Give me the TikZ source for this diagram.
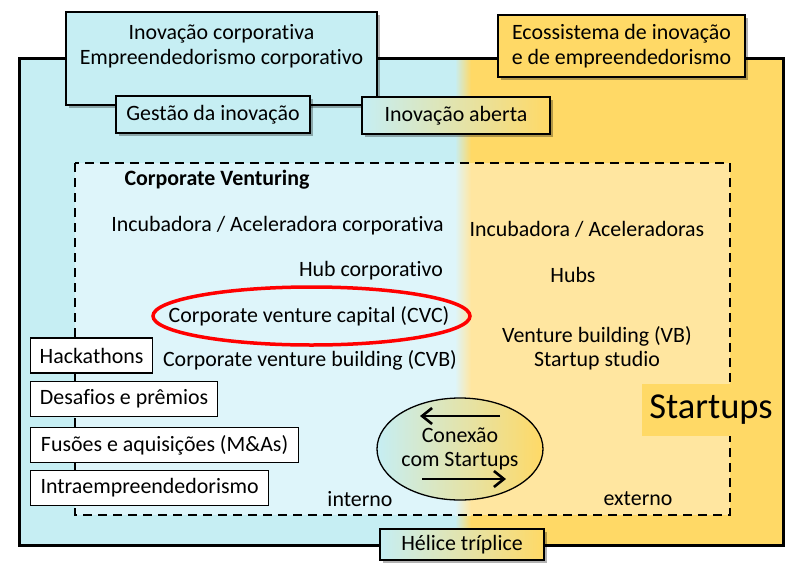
\documentclass[tikz,border=0pt]{standalone}
\usepackage{fontspec}
\setmainfont{Carlito}[Ligatures=NoCommon]
\usetikzlibrary{positioning,arrows.meta,shadows,shapes.geometric}
\definecolor{azul}{HTML}{C6EEF3}
\definecolor{azulclaro}{HTML}{DEF5FA}
\definecolor{amarelo}{HTML}{FFD966}
\definecolor{amareloclaro}{HTML}{FFE6A0}

\begin{document}
\begin{tikzpicture}[
  x=1pt, y=-1pt, font=\fontsize{21.9}{24.5}\selectfont, node distance=7pt,
  caixa/.style={draw, line width=1.3pt, inner sep=0pt, minimum width=#1, minimum height=37pt},
  caixa/.default=190pt,
  sombra/.style={drop shadow={shadow xshift=2.5pt, shadow yshift=-2.5pt, fill=black, opacity=0.3}},
  lista/.style={draw, line width=1.2pt, fill=white, anchor=west, minimum width=#1, inner xsep=8.5pt, inner ysep=0pt, minimum height=35pt},
  grad/.style={left color=azul, right color=amarelo},
  seta/.style={-{Straight Barb[length=10pt, width=16pt]}, line width=2.6pt},
  rot/.style={inner sep=1pt}]
\useasboundingbox (0,0) rectangle (796,568);
% --- outer frame: corporate side (blue) and ecosystem side (yellow)
\fill[azul] (19,58) rectangle (455,545);
\shade[grad] (455,58) rectangle (471,545);
\fill[amarelo] (471,58) rectangle (783,545);
\draw[line width=3pt] (19,58) rectangle (783,545);
% --- dashed area: corporate venturing
\fill[azulclaro] (75,163) rectangle (455,515);
\shade[left color=azulclaro, right color=amareloclaro] (455,163) rectangle (471,515);
\fill[amareloclaro] (471,163) rectangle (730,515);
\draw[line width=1.8pt, dash pattern=on 9pt off 6pt] (75,163) rectangle (730,515);
% --- boxes on the frame
\node[caixa=311pt, minimum height=93pt, fill=azul, sombra] (corp) at (221.5,58.5) {};
\node[below=13pt of corp.north, align=center, inner sep=0pt] (corptxt) {Inovação corporativa\\Empreendedorismo corporativo};
\node[caixa=194pt, fill=azul, sombra] (gestao) at (213,114.5) {Gestão da inovação};
\node[caixa=188pt, grad, sombra] (aberta) at (456,115.5) {Inovação aberta};
\node[caixa=247pt, minimum height=62pt, fill=amarelo, sombra, align=center] (ecos) at (621.5,46) {Ecossistema de inovação\\e de empreendedorismo};
\node[caixa=164pt, minimum height=31pt, grad, sombra] (helice) at (462,544.5) {Hélice tríplice};
% --- inside: corporate side
\node[rot, font=\fontsize{21.9}{24.5}\selectfont\bfseries] (cv) at (217,180) {Corporate Venturing};
\node[rot] (incub) at (277.5,226) {Incubadora / Aceleradora corporativa};
\node[rot] (hub) at (371,271) {Hub corporativo};
\node[rot] (cvc) at (309,316) {Corporate venture capital (CVC)};
\draw[red, line width=3.5pt] ([xshift=2.5pt]cvc.center) ellipse [x radius=158.5pt, y radius=29pt];
\node[rot] (cvb) at (310,360) {Corporate venture building (CVB)};
\node[rot] (interno) at (360,499) {interno};
% --- inside: ecosystem side
\node[rot] (incubs) at (587,229) {Incubadora / Aceleradoras};
\node[rot] (hubs) at (573,275) {Hubs};
\node[rot, align=center] (vb) at (597,348) {Venture building (VB)\\Startup studio};
\node[rot] (externo) at (638,499) {externo};
\node[fill=amarelo, minimum width=138pt, minimum height=52pt, inner sep=0pt, font=\fontsize{36.5}{40}\selectfont] (startups) at (711,410) {Startups};
% --- left list
\node[lista=122pt] (hack) at (30,355.5) {Hackathons};
\node[lista=187pt, below=of hack.south west, anchor=north west] (desafios) {Desafios e prêmios};
\node[lista=268pt, below=10pt of desafios.south west, anchor=north west] (fusoes) {Fusões e aquisições (M\&As)};
\node[lista=238pt, below=of fusoes.south west, anchor=north west] (intra) {Intraempreendedorismo};
% --- connection with startups
\node[ellipse, draw, line width=1.3pt, grad, minimum width=166pt, minimum height=102pt, inner sep=0pt, align=center] (conexao) at (460,449) {Conexão\\com Startups};
\draw[seta] ([xshift=40pt, yshift=33pt]conexao.center) -- ([xshift=-40pt, yshift=33pt]conexao.center);
\draw[seta] ([xshift=-38pt, yshift=-30pt]conexao.center) -- ([xshift=46pt, yshift=-30pt]conexao.center);
\end{tikzpicture}
\end{document}
